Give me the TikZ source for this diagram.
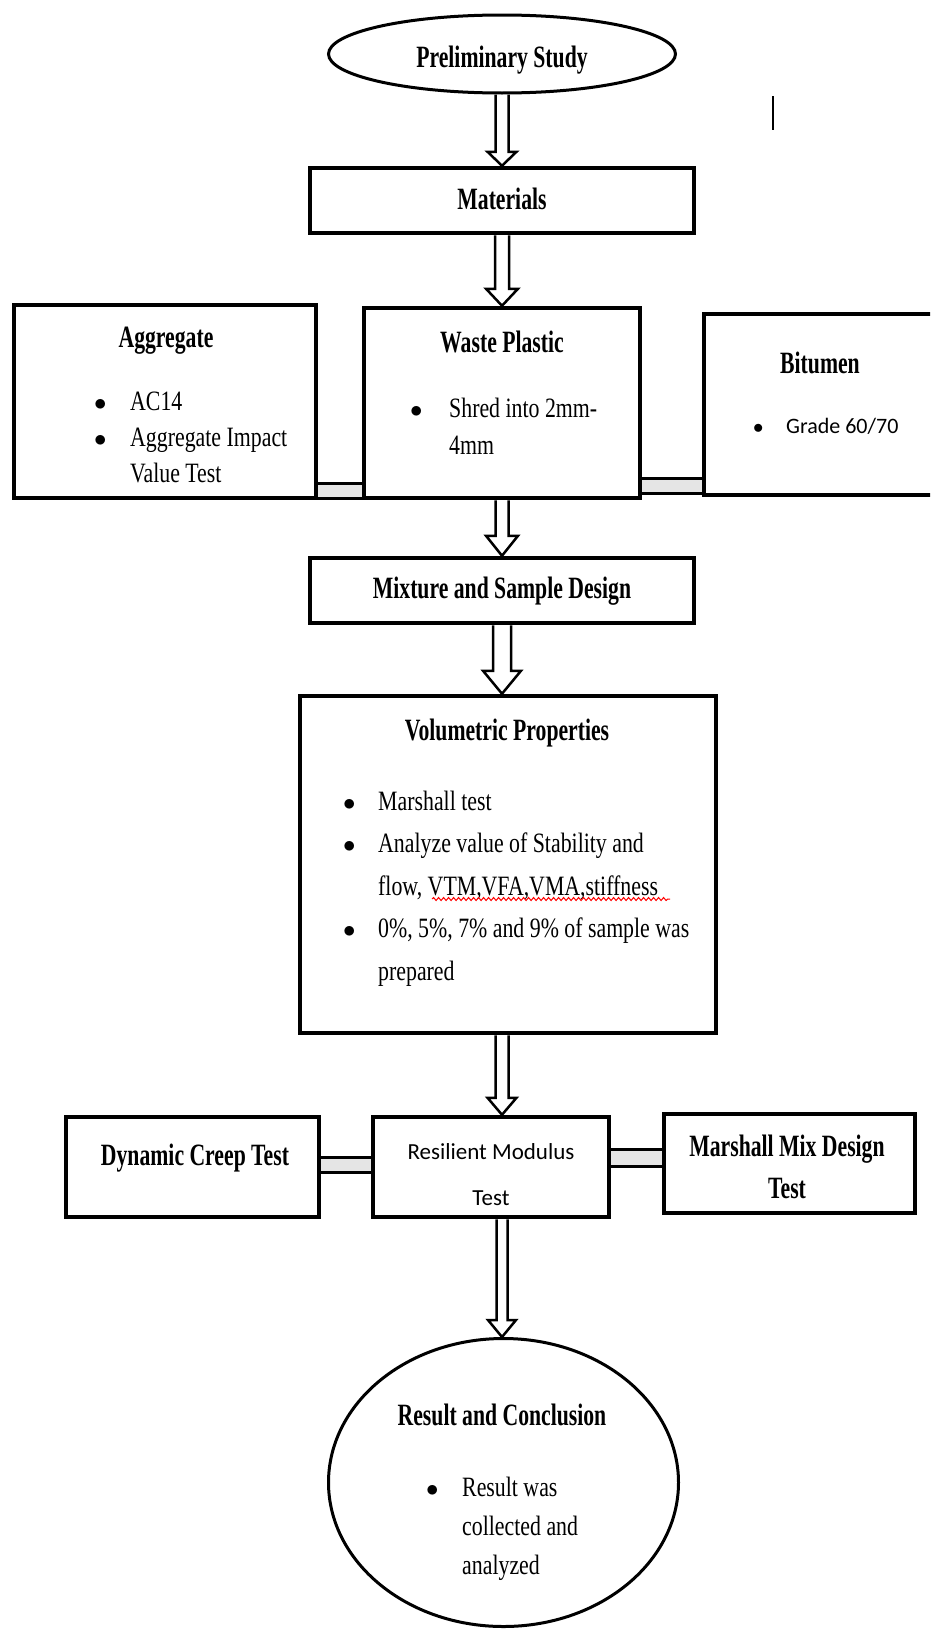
\documentclass[tikz,border=0pt]{standalone}
\usepackage{fontspec}
\setmainfont{Liberation Serif}[FakeStretch=0.78]
\newfontfamily\headfont{Liberation Serif}[FakeStretch=0.70]
\newfontfamily\calibrifont{Carlito}
\usepackage{tikz}
\usetikzlibrary{shapes.geometric, calc, decorations.pathmorphing}

\tikzset{
  box/.style={draw, line width=4.5pt, fill=white, inner sep=0pt},
  oval/.style={draw, ellipse, line width=3pt, fill=white, inner sep=0pt},
  title/.style={font={\headfont\bfseries\fontsize{31}{42}\selectfont}, inner sep=0pt, anchor=base},
  bodytext/.style={font={\fontsize{28}{#1}\selectfont}, inner sep=0pt, anchor=base west},
  sanstext/.style={font={\calibrifont\fontsize{#1}{46}\selectfont}, inner sep=0pt},
  blockline/.style={line width=2.5pt, line join=miter},
  barline/.style={line width=3pt},
}
\newcommand{\bul}[1]{\makebox[#1][l]{\hspace*{-3pt}$\bullet$}}
% hollow down arrow: top node, bottom node, half shaft, half head, head length
\newcommand{\blockarrow}[5]{%
  \draw[blockline] ($(#1.south -| axis)+(-#3,0)$) -- ($(#2.north -| axis)+(-#3,-#5)$)
    -- ($(#2.north -| axis)+(-#4,-#5)$) -- (#2.north -| axis)
    -- ($(#2.north -| axis)+(#4,-#5)$) -- ($(#2.north -| axis)+(#3,-#5)$)
    -- ($(#1.south -| axis)+(#3,0)$);}
% double bar between side boxes: left node, right node, top y, bottom y
\newcommand{\linkbar}[4]{%
  \fill[gray!20] (#1.east |- 0,#3) rectangle (#2.west |- 0,#4);
  \draw[barline] (#1.east |- 0,#3) -- (#2.west |- 0,#3) (#1.east |- 0,#4) -- (#2.west |- 0,#4);}

\begin{document}
\begin{tikzpicture}[x=1pt, y=-1pt]
\clip (0,0) rectangle (930,1630);
\fill[white] (0,0) rectangle (930,1630);
\coordinate (axis) at (502,0);
% Start
\node[oval, minimum width=347pt, minimum height=78pt] (start) at (502,54) {};
\node[title] (startT) at (502,67) {Preliminary Study};
\draw[line width=1.5pt] (773,96) -- (773,130);
% Materials
\node[box, minimum width=384pt, minimum height=65pt] (materials) at (502,200.5) {};
\node[title] (materialsT) at (502,209) {Materials};
% Aggregate / Waste Plastic / Bitumen
\node[box, minimum width=302pt, minimum height=193pt] (agg) at (165,401.5) {};
\node[title] (aggT) at (166,347) {Aggregate};
\node[bodytext=36] (aggL) at (97,410) {\begin{tabular}[t]{@{}l@{}}
  \bul{33pt}AC14\\ \bul{33pt}Aggregate Impact\\ \hspace*{33pt}Value Test\end{tabular}};
\node[box, minimum width=276pt, minimum height=190pt] (waste) at (502,403) {};
\node[title] (wasteT) at (502,352) {Waste Plastic};
\node[bodytext=37] (wasteL) at (413,417) {\begin{tabular}[t]{@{}l@{}}
  \bul{36pt}Shred into 2mm-\\ \hspace*{36pt}4mm\end{tabular}};
\node[box, minimum width=254pt, minimum height=181pt] (bitumen) at (831,404.5) {};
\node[title] (bitumenT) at (820,373) {Bitumen};
\node[sanstext=22, anchor=base west] (bitumenL) at (756,433) {\bul{30pt}Grade 60/70};
% Mixture
\node[box, minimum width=384pt, minimum height=65pt] (mixture) at (502,590.5) {};
\node[title] (mixtureT) at (502,598) {Mixture and Sample Design};
% Volumetric
\node[box, minimum width=416pt, minimum height=337pt] (volum) at (508,864.5) {};
\node[title] (volumT) at (507,740) {Volumetric Properties};
\node[bodytext=42.5] (volumL) at (346,810) {\begin{tabular}[t]{@{}l@{}}
  \bul{32pt}Marshall test\\
  \bul{32pt}Analyze value of Stability and\\
  \hspace*{32pt}flow, VTM,VFA,VMA,stiffness\\
  \bul{32pt}0\%, 5\%, 7\% and 9\% of sample was\\
  \hspace*{32pt}prepared\end{tabular}};
\draw[red, line width=1pt, decorate, decoration={snake, amplitude=1.5pt, segment length=5pt}] (432,899) -- (670,899);
% Tests
\node[box, minimum width=253pt, minimum height=100pt] (dyn) at (192.5,1167) {};
\node[title] (dynT) at (195,1165) {Dynamic Creep Test};
\node[box, minimum width=236pt, minimum height=100pt] (resil) at (491,1167) {};
\node[sanstext=23, anchor=base] (resilT) at (491,1159) {\begin{tabular}[t]{@{}c@{}}Resilient Modulus\\Test\end{tabular}};
\node[box, minimum width=251pt, minimum height=99pt] (marsh) at (789.5,1163.5) {};
\node[title] (marshT) at (787,1156) {\begin{tabular}[t]{@{}c@{}}Marshall Mix Design\\Test\end{tabular}};
% Result
\node[oval, minimum width=350pt, minimum height=288pt] (result) at (503.5,1482.5) {};
\node[title] (resultT) at (502,1425) {Result and Conclusion};
\node[bodytext=39] (resultL) at (429,1496) {\begin{tabular}[t]{@{}l@{}}
  \bul{33pt}Result was\\ \hspace*{33pt}collected and\\ \hspace*{33pt}analyzed\end{tabular}};
% Arrows
\blockarrow{start}{materials}{6.5}{14.5}{14}
\blockarrow{materials}{waste}{7}{16}{17}
\blockarrow{waste}{mixture}{6.5}{16}{20}
\blockarrow{mixture}{volum}{9}{19}{23}
\blockarrow{volum}{resil}{6.5}{14.5}{17}
\blockarrow{resil}{result}{5.5}{14}{17}
% Side bars
\linkbar{agg}{waste}{483}{498}
\linkbar{waste}{bitumen}{478}{493}
\linkbar{dyn}{resil}{1157}{1172}
\linkbar{resil}{marsh}{1149}{1166}
\end{tikzpicture}
\end{document}
